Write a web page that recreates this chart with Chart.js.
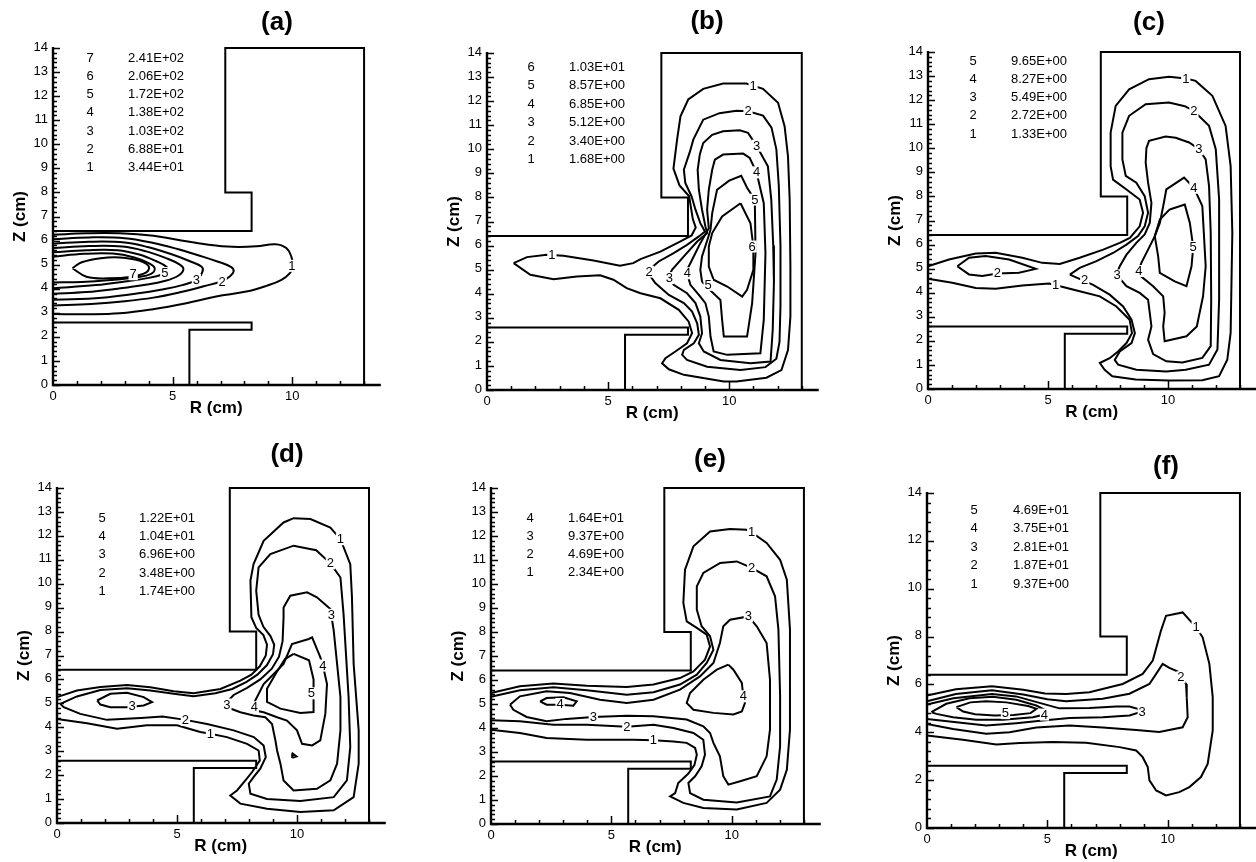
<!DOCTYPE html>
<html>
<head>
<meta charset="utf-8">
<script src="https://cdn.jsdelivr.net/npm/chart.js@4/dist/chart.umd.min.js"></script>
<style>
  html, body { margin: 0; padding: 0; background: #fff; }
  body { width: 1256px; height: 862px; overflow: hidden; position: relative; }
  canvas { position: absolute; }
</style>
</head>
<body>
<script>
// ---- axes ----
const rTicks = [0, 5, 10];
const zTicks = [0, 1, 2, 3, 4, 5, 6, 7, 8, 9, 10, 11, 12, 13, 14];
const zTicksEven = [0, 2, 4, 6, 8, 10, 12, 14];

// ---- reactor walls (R, Z in cm) ----
const upperWall = [[0, 6.4], [8.3, 6.4], [8.3, 8.0], [7.2, 8.0], [7.2, 14], [13, 14], [13, 0]];
const lowerWall = [[0, 2.6], [8.3, 2.6], [8.3, 2.3], [5.7, 2.3], [5.7, 0]];

// ---- contour levels, lowest first ----
const levelsA = [34.4, 68.8, 103, 138, 172, 206, 241];
const levelsB = [1.68, 3.40, 5.12, 6.85, 8.57, 10.3];
const levelsC = [1.33, 2.72, 5.49, 8.27, 9.65];
const levelsD = [1.74, 3.48, 6.96, 10.4, 12.2];
const levelsE = [2.34, 4.69, 9.37, 16.4];
const levelsF = [9.37, 18.7, 28.1, 37.5, 46.9];

// ---- (a) ----
const contoursA = [
  [[0,6.24],[1.4,6.3],[2.8,6.3],[4.2,6.2],[5.2,6.03],[6.5,5.83],[7.5,5.74],[8.5,5.76],[9.3,5.85],[9.75,5.69],[9.96,5.33],[10.03,4.92],[9.9,4.65],[9.55,4.37],[8.92,4.12],[8.08,3.88],[6.82,3.68],[5.57,3.4],[4.18,3.15],[2.79,2.98],[1.39,2.94],[0,2.95]],
  [[0,6.06],[1.5,6.13],[3.0,6.1],[4.2,5.9],[5.2,5.65],[6.1,5.38],[6.9,5.12],[7.45,4.9],[7.55,4.72],[7.4,4.52],[7.07,4.32],[6.3,4.1],[5.3,3.85],[4.2,3.63],[3.0,3.48],[1.6,3.37],[0,3.3]],
  [[0,5.87],[1.5,5.95],[3.0,5.92],[4.0,5.72],[4.9,5.45],[5.7,5.15],[6.2,4.92],[6.25,4.72],[6.0,4.37],[5.4,4.15],[4.5,3.96],[3.5,3.8],[2.3,3.65],[1.1,3.57],[0,3.54]],
  [[0,5.69],[1.5,5.77],[2.9,5.75],[3.9,5.55],[4.7,5.28],[5.3,5.0],[5.45,4.8],[5.25,4.55],[4.7,4.33],[3.8,4.15],[2.7,4.0],[1.4,3.86],[0,3.79]],
  [[0,5.51],[1.4,5.6],[2.7,5.6],[3.6,5.42],[4.3,5.15],[4.75,4.9],[4.8,4.72],[4.6,4.6],[4.0,4.45],[3.0,4.3],[1.8,4.15],[0,4.02]],
  [[0,5.33],[1.3,5.45],[2.5,5.46],[3.4,5.3],[4.0,5.06],[4.25,4.85],[4.1,4.62],[3.5,4.48],[2.4,4.36],[1.2,4.28],[0,4.26]],
  [[0.81,4.85],[1.2,5.1],[2.0,5.27],[2.8,5.3],[3.6,5.17],[4.0,4.93],[3.9,4.68],[3.3,4.5],[2.3,4.43],[1.4,4.5],[0.81,4.85]]
];
const labelsA = [[3.35, 4.6, '7'], [4.67, 4.65, '5'], [5.99, 4.37, '3'], [7.07, 4.3, '2'], [9.98, 4.95, '1']];

// ---- (b) ----
const contoursB = [
  [[1.10,5.27],[1.65,5.52],[2.47,5.62],[3.16,5.58],[4.40,5.38],[5.49,5.16],[6.04,5.27],[6.34,5.44],[7.16,5.75],[7.99,6.17],[8.45,6.42],[8.62,6.75],[8.50,7.10],[8.42,7.60],[8.35,8.05],[7.95,8.50],[7.70,9.20],[7.85,10.40],[7.99,11.37],[8.31,12.07],[8.93,12.51],[9.75,12.73],[10.71,12.73],[11.40,12.51],[12.02,11.93],[12.29,10.96],[12.43,9.71],[12.50,7.91],[12.53,5.13],[12.53,3.05],[12.43,1.66],[12.16,0.83],[11.54,0.51],[10.30,0.35],[9.78,0.35],[8.13,0.63],[7.51,0.86],[7.23,1.11],[7.37,1.32],[7.78,1.60],[8.26,1.94],[8.47,2.36],[8.33,2.84],[7.92,3.33],[7.16,3.81],[6.34,4.02],[5.77,4.23],[5.22,4.58],[4.67,4.77],[3.71,4.72],[2.75,4.60],[1.79,4.79],[1.10,5.27]],
  [[6.61,4.92],[7.09,5.34],[7.71,5.69],[8.26,6.03],[8.75,6.38],[9.00,6.58],[8.81,6.93],[8.61,7.49],[8.45,8.04],[8.19,8.60],[8.13,9.15],[8.38,9.90],[8.52,10.40],[8.93,11.23],[9.6,11.5],[10.3,11.6],[10.78,11.58],[11.4,11.4],[11.75,10.9],[11.95,10.0],[12.05,8.5],[12.12,6.0],[12.12,3.5],[12.08,2.0],[11.95,1.3],[11.5,0.95],[10.47,0.83],[9.09,0.97],[8.26,1.25],[8.06,1.46],[8.13,1.67],[8.54,1.94],[8.75,2.29],[8.68,2.77],[8.47,3.26],[8.13,3.61],[7.51,3.95],[6.95,4.44],[6.61,4.92]],
  [[7.51,4.72],[7.64,4.99],[8.13,5.55],[8.68,6.17],[9.09,6.52],[9.02,6.79],[8.88,7.49],[8.75,8.32],[8.7,9.15],[8.79,9.8],[8.93,10.26],[9.3,10.6],[9.75,10.75],[10.44,10.79],[10.78,10.68],[11.13,10.15],[11.6,9.29],[11.74,7.91],[11.82,6.0],[11.85,4.5],[11.8,2.5],[11.71,1.18],[10.88,1.11],[9.64,1.25],[8.95,1.60],[8.75,1.94],[8.88,2.36],[8.81,3.05],[8.61,3.61],[8.26,4.02],[7.71,4.37],[7.51,4.72]],
  [[8.26,4.85],[8.26,4.99],[8.47,5.41],[8.81,6.10],[9.16,6.72],[9.09,7.49],[9.16,8.32],[9.30,9.15],[9.41,9.57],[9.75,9.78],[10.58,9.82],[10.85,9.64],[11.13,9.04],[11.43,7.76],[11.5,5.69],[11.43,2.91],[11.29,1.53],[9.92,1.46],[9.36,1.60],[9.23,2.22],[9.16,3.05],[9.02,3.61],[8.75,3.95],[8.40,4.37],[8.26,4.85]],
  [[8.88,4.5],[8.81,4.99],[8.88,5.55],[9.09,6.2],[9.23,6.66],[9.30,7.35],[9.50,8.32],[10.0,8.7],[10.5,8.9],[10.74,8.4],[11.06,7.91],[11.09,5.69],[10.95,3.61],[10.74,2.22],[9.78,2.22],[9.71,2.91],[9.64,3.74],[9.16,4.2],[8.88,4.5]],
  [[10.47,7.76],[9.71,7.21],[9.30,6.52],[9.16,5.96],[9.16,5.13],[9.36,4.58],[9.92,4.30],[10.54,3.88],[10.74,4.16],[11.0,4.99],[11.0,5.96],[10.88,6.93],[10.47,7.76]]
];
const labelsB = [[2.68, 5.63, '1'], [10.99, 12.64, '1'], [10.78, 11.58, '2'], [6.7, 4.92, '2'], [11.13, 10.15, '3'], [7.53, 4.65, '3'],
  [11.13, 9.04, '4'], [8.27, 4.85, '4'], [11.06, 7.91, '5'], [9.13, 4.37, '5'], [10.95, 5.96, '6']];

// ---- (c) ----
const contoursC = [
  [[0,5.10],[0.875,5.38],[1.99,5.63],[2.82,5.66],[3.93,5.45],[4.76,5.24],[5.49,5.19],[6.32,5.45],[7.30,5.79],[7.99,6.07],[8.41,6.28],[8.82,6.76],[8.96,7.32],[8.82,7.87],[8.27,8.29],[7.71,8.70],[7.61,9.26],[7.61,10.65],[7.82,11.76],[8.38,12.45],[9.21,12.87],[10.04,12.97],[10.74,12.9],[11.15,12.80],[11.85,12.18],[12.40,10.93],[12.61,9.26],[12.68,6.49],[12.61,2.33],[12.47,1.22],[12.13,0.53],[11.43,0.36],[10.04,0.35],[8.65,0.39],[7.68,0.53],[7.36,0.80],[7.16,1.08],[7.57,1.28],[7.92,1.56],[8.27,1.91],[8.5,2.32],[8.4,2.88],[7.85,3.43],[7.16,3.85],[6.32,4.06],[5.5,4.27],[5.04,4.38],[3.93,4.30],[2.82,4.16],[1.99,4.20],[1.01,4.41],[0,4.58]],
  [[5.91,4.75],[6.32,5.03],[7.02,5.31],[7.71,5.65],[8.27,6.0],[8.75,6.35],[9.03,6.76],[9.17,7.32],[9.03,8.01],[8.68,8.57],[8.24,8.85],[8.10,9.54],[8.10,10.65],[8.38,11.35],[9.07,11.83],[10.04,11.9],[10.7,11.75],[11.08,11.55],[11.71,10.93],[11.99,9.96],[12.13,7.88],[12.13,3.72],[12.06,1.64],[11.71,1.01],[10.74,0.80],[9.93,0.73],[8.68,0.80],[7.92,1.01],[7.78,1.21],[7.99,1.56],[8.48,1.91],[8.62,2.32],[8.48,2.88],[8.13,3.43],[7.57,3.92],[6.88,4.33],[5.91,4.75]],
  [[1.22,5.10],[1.71,5.45],[2.40,5.52],[3.38,5.38],[4.49,4.99],[3.79,4.83],[2.89,4.80],[2.26,4.69],[1.71,4.76],[1.22,5.10]],
  [[7.85,4.75],[7.99,5.10],[8.27,5.58],[8.68,6.07],[9.03,6.42],[9.24,6.90],[9.31,7.73],[9.17,8.57],[9.07,9.4],[9.1,10.0],[9.21,10.31],[9.9,10.49],[10.32,10.44],[10.88,10.24],[11.29,9.96],[11.57,9.54],[11.71,8.43],[11.78,6.49],[11.8,3.72],[11.78,1.78],[11.43,1.29],[10.6,1.10],[9.93,1.15],[9.38,1.45],[9.17,2.05],[9.31,2.6],[9.24,3.16],[9.17,3.71],[8.82,3.99],[8.27,4.27],[7.85,4.75]],
  [[8.79,4.95],[8.89,5.24],[9.17,5.79],[9.45,6.35],[9.66,6.90],[9.80,7.59],[9.93,8.29],[10.67,8.78],[11.08,8.36],[11.43,7.60],[11.57,5.10],[11.46,3.85],[11.2,2.6],[10.77,2.19],[9.86,1.98],[9.80,2.6],[9.86,3.16],[9.8,3.85],[9.38,4.27],[8.85,4.7],[8.79,4.95]],
  [[10.07,7.46],[10.7,7.66],[10.91,6.9],[11.05,5.9],[10.98,5.1],[10.77,4.27],[10.28,4.47],[9.66,4.82],[9.59,5.51],[9.45,6.35],[9.66,7.04],[10.07,7.46]]
];
const labelsC = [[10.74, 12.9, '1'], [5.32, 4.33, '1'], [11.08, 11.55, '2'], [6.53, 4.52, '2'], [2.89, 4.82, '2'], [11.29, 9.96, '3'],
  [7.88, 4.72, '3'], [11.08, 8.36, '4'], [8.79, 4.9, '4'], [11.05, 5.9, '5']];

// ---- (d) ----
const contoursD = [
  [[0,5.26],[0.83,5.54],[1.81,5.68],[2.92,5.77],[3.89,5.67],[4.86,5.51],[5.69,5.42],[6.81,5.6],[7.64,5.95],[8.1,6.2],[8.45,6.55],[8.7,7.0],[8.75,7.45],[8.6,7.85],[8.3,8.15],[8.1,8.6],[8.06,10.13],[8.19,10.82],[8.61,11.79],[9.44,12.56],[9.86,12.74],[10.56,12.70],[11.39,12.35],[11.81,11.86],[12.22,10.82],[12.29,9.43],[12.36,6.65],[12.57,3.87],[12.57,2.48],[12.36,1.08],[11.53,0.53],[10.14,0.46],[8.75,0.60],[7.64,0.81],[7.22,1.15],[7.5,1.36],[7.85,1.78],[8.13,2.13],[8.45,2.61],[8.40,3.03],[7.92,3.31],[7.08,3.59],[6.39,3.73],[5.97,3.80],[5.0,4.08],[3.75,4.08],[2.5,3.94],[1.25,4.17],[0,4.35]],
  [[0.14,4.98],[0.83,5.29],[1.81,5.56],[2.92,5.63],[3.89,5.54],[4.86,5.40],[5.69,5.30],[6.6,5.42],[7.3,5.6],[7.9,5.9],[8.35,6.2],[8.75,6.6],[9.0,7.05],[9.05,7.45],[8.9,7.8],[8.6,8.2],[8.4,8.7],[8.3,9.71],[8.40,10.68],[8.89,11.24],[9.86,11.59],[10.8,11.4],[11.39,10.85],[11.81,10.26],[11.94,8.73],[12.15,5.26],[12.22,3.17],[12.08,1.78],[11.53,1.08],[10.14,0.92],[8.75,1.0],[8.06,1.22],[7.99,1.64],[8.19,1.92],[8.47,2.27],[8.7,2.75],[8.61,3.24],[8.2,3.59],[7.36,3.87],[6.25,4.14],[5.35,4.31],[4.4,4.45],[3.5,4.39],[2.08,4.31],[0.97,4.56],[0.28,4.84],[0.14,4.98]],
  [[1.67,5.12],[2.22,5.40],[2.92,5.44],[3.61,5.26],[3.96,5.05],[3.61,4.91],[2.92,4.84],[2.22,4.84],[1.81,4.95],[1.67,5.12]],
  [[7.08,5.05],[7.36,5.35],[7.92,5.65],[8.47,6.0],[8.95,6.45],[9.25,6.95],[9.4,7.6],[9.44,8.60],[9.44,9.01],[9.72,9.50],[10.42,9.64],[10.83,9.43],[11.39,8.94],[11.53,8.04],[11.67,6.65],[11.81,5.26],[11.81,3.87],[11.67,2.48],[11.39,1.78],[10.83,1.43],[9.86,1.36],[9.44,1.78],[9.31,2.48],[9.17,3.03],[9.10,3.45],[8.96,4.14],[8.68,4.42],[8.19,4.49],[7.64,4.63],[7.08,4.84],[7.08,5.05]],
  [[8.22,4.84],[8.26,5.12],[8.61,5.81],[9.03,6.23],[9.44,6.65],[9.79,7.48],[10.49,7.69],[10.63,7.76],[10.97,6.93],[11.08,6.58],[11.25,5.81],[11.18,4.56],[10.97,3.45],[10.63,3.24],[10.21,3.31],[10.0,3.87],[9.58,4.28],[9.17,4.42],[8.61,4.63],[8.26,4.70],[8.22,4.84]],
  [[9.86,7.07],[10.5,6.8],[10.69,6.0],[10.69,4.64],[10.14,4.6],[9.31,4.78],[8.75,5.06],[8.75,5.61],[9.15,6.3],[9.5,6.85],[9.86,7.07]],
  [[9.8,2.72],[9.98,2.78],[9.82,2.9],[9.8,2.72]]
];
const labelsD = [[11.81, 11.86, '1'], [6.39, 3.73, '1'], [11.39, 10.85, '2'], [5.35, 4.31, '2'], [11.43, 8.7, '3'], [7.08, 4.95, '3'],
  [3.13, 4.88, '3'], [11.08, 6.58, '4'], [8.22, 4.84, '4'], [10.6, 5.42, '5']];

// ---- (e) ----
const contoursE = [
  [[0,5.46],[1.2,5.74],[2.59,5.85],[3.98,5.76],[5.64,5.71],[6.75,5.81],[7.85,6.08],[8.41,6.36],[8.89,6.85],[9.10,7.40],[8.96,7.89],[8.55,8.17],[8.13,8.44],[7.99,9.21],[8.06,10.6],[8.41,11.57],[9.10,12.19],[9.93,12.29],[10.62,12.26],[10.83,12.15],[11.45,11.71],[12.01,11.01],[12.29,10.18],[12.42,8.1],[12.42,3.93],[12.29,2.26],[12.01,1.43],[11.45,0.88],[10.21,0.6],[8.82,0.67],[7.99,0.88],[7.44,1.15],[7.65,1.29],[7.78,1.71],[8.2,2.1],[8.45,2.45],[8.55,2.89],[8.48,3.17],[8.13,3.38],[7.58,3.44],[6.75,3.49],[5.91,3.51],[3.98,3.51],[2.31,3.58],[1.2,3.79],[0,3.93]],
  [[0,5.30],[1.2,5.57],[2.59,5.70],[3.98,5.57],[5.64,5.39],[6.75,5.49],[7.85,5.81],[8.55,6.22],[8.96,6.71],[9.24,7.26],[9.10,7.82],[8.75,8.24],[8.55,8.93],[8.55,9.90],[8.82,10.46],[9.52,10.88],[10.21,10.94],[10.83,10.67],[11.45,10.32],[11.8,9.49],[11.94,8.1],[12.01,5.32],[12.01,3.24],[11.87,1.85],[11.59,1.15],[10.21,0.9],[8.82,1.01],[8.27,1.29],[8.2,1.71],[8.48,1.99],[8.75,2.4],[8.89,2.89],[8.82,3.51],[8.41,3.79],[7.58,4.0],[6.75,4.14],[5.64,4.05],[3.98,4.14],[2.59,4.14],[1.2,4.28],[0,4.32]],
  [[0.79,4.97],[1.2,5.32],[2.31,5.53],[3.28,5.46],[4.53,5.18],[5.64,5.04],[6.75,5.18],[7.85,5.6],[8.68,6.15],[9.24,6.71],[9.51,7.54],[9.65,8.24],[9.93,8.51],[10.69,8.65],[11.04,8.24],[11.45,7.54],[11.59,6.01],[11.59,3.93],[11.45,2.82],[11.04,1.99],[10.35,1.78],[9.86,1.64],[9.65,1.99],[9.51,2.82],[9.24,3.38],[9.1,3.79],[8.82,4.07],[8.13,4.35],[6.75,4.49],[5.64,4.51],[4.25,4.46],[3.14,4.38],[2.31,4.28],[1.48,4.46],[0.93,4.76],[0.79,4.97]],
  [[9.86,6.64],[10.07,6.43],[10.42,5.88],[10.48,5.32],[10.55,5.04],[10.42,4.69],[10.07,4.56],[9.24,4.63],[8.41,4.76],[8.13,5.04],[8.27,5.46],[8.82,6.01],[9.38,6.43],[9.86,6.64]],
  [[2.04,5.11],[2.31,5.25],[3.01,5.28],[3.56,5.11],[3.42,4.93],[2.87,4.97],[2.31,4.97],[2.04,5.11]]
];
const labelsE = [[10.83, 12.15, '1'], [6.75, 3.49, '1'], [10.83, 10.67, '2'], [5.64, 4.05, '2'], [10.69, 8.65, '3'], [4.25, 4.46, '3'],
  [10.48, 5.32, '4'], [2.87, 5.0, '4']];

// ---- (f) ----
const contoursF = [
  [[0,5.54],[1.2,5.8],[2.7,5.92],[4.0,5.78],[4.9,5.62],[5.78,5.6],[6.75,5.67],[8.13,6.02],[8.96,6.44],[9.38,7.0],[9.72,8.25],[9.93,8.87],[10.62,9.01],[11.18,8.39],[11.45,7.97],[11.73,6.86],[11.87,5.47],[11.87,4.08],[11.66,2.68],[11.38,2.13],[10.9,1.71],[10.48,1.5],[9.93,1.36],[9.52,1.57],[9.24,1.99],[9.17,2.55],[8.96,2.96],[8.69,3.24],[8.0,3.38],[6.61,3.56],[5.23,3.59],[3.85,3.55],[2.88,3.49],[1.49,3.69],[0,3.87]],
  [[0,5.30],[1.2,5.6],[2.7,5.76],[4.0,5.58],[5.0,5.38],[5.78,5.3],[7.30,5.40],[8.41,5.61],[9.24,6.02],[9.52,6.44],[9.79,6.86],[10.07,6.69],[10.4,6.55],[10.55,6.3],[10.76,6.02],[10.79,5.47],[10.83,4.63],[10.62,4.21],[9.65,4.01],[8.69,4.1],[7.3,4.2],[5.92,4.28],[4.54,4.2],[3.43,4.0],[2.46,3.94],[1.08,4.14],[0,4.35]],
  [[0,5.16],[1.1,5.42],[2.7,5.6],[3.7,5.5],[4.6,5.25],[5.5,5.0],[6.75,5.02],[7.86,5.08],[8.41,5.08],[8.76,4.98],[8.85,4.84],[8.41,4.70],[7.30,4.63],[5.92,4.60],[4.81,4.49],[3.71,4.38],[2.46,4.28],[1.22,4.42],[0,4.56]],
  [[0.18,4.84],[0.8,5.19],[1.77,5.42],[2.74,5.48],[3.71,5.36],[4.54,5.12],[4.95,4.91],[4.88,4.74],[4.40,4.63],[3.15,4.52],[2.05,4.52],[1.08,4.63],[0.39,4.77],[0.18,4.84]],
  [[1.22,5.05],[1.8,5.25],[2.46,5.3],[3.3,5.25],[4.2,5.1],[4.55,4.98],[4.3,4.8],[3.6,4.72],[2.8,4.7],[2.0,4.75],[1.5,4.87],[1.22,5.05]]
];
const labelsF = [[11.18, 8.39, '1'], [10.55, 6.3, '2'], [8.94, 4.84, '3'], [4.88, 4.74, '4'], [3.26, 4.8, '5']];

// ---- page layout (pixels) ----
const panels = [
  { title: '(a)', x0: 53, y0: 385, sx: 23.93, sy: 24.05, titleDx: 224, titleDy: 362, legDx: 37, valDx: 75, legDy: 327, legStep: 18.3, zTicks: zTicks, levels: levelsA, contours: contoursA, labels: labelsA, tension: 0.4 },
  { title: '(b)', x0: 487, y0: 390, sx: 24.2, sy: 24.05, titleDx: 220, titleDy: 368, legDx: 44, valDx: 82, legDy: 323, legStep: 18.5, zTicks: zTicks, levels: levelsB, contours: contoursB, labels: labelsB, tension: 0 },
  { title: '(c)', x0: 928, y0: 389, sx: 24.0, sy: 24.04, titleDx: 221, titleDy: 366, legDx: 45, valDx: 83, legDy: 328, legStep: 18.3, zTicks: zTicks, levels: levelsC, contours: contoursC, labels: labelsC, tension: 0 },
  { title: '(d)', x0: 57, y0: 823, sx: 24.0, sy: 23.96, titleDx: 230, titleDy: 368, legDx: 45, valDx: 82, legDy: 305, legStep: 18.35, zTicks: zTicks, levels: levelsD, contours: contoursD, labels: labelsD, tension: 0 },
  { title: '(e)', x0: 491, y0: 824, sx: 24.07, sy: 24.0, titleDx: 219, titleDy: 364, legDx: 39, valDx: 77, legDy: 306, legStep: 18.1, zTicks: zTicks, levels: levelsE, contours: contoursE, labels: labelsE, tension: 0 },
  { title: '(f)', x0: 927, y0: 828, sx: 24.1, sy: 23.96, titleDx: 239, titleDy: 361, legDx: 47, valDx: 86, legDy: 318, legStep: 18.5, zTicks: zTicksEven, levels: levelsF, contours: contoursF, labels: labelsF, tension: 0 }
];

const FONT = '"Liberation Sans", Arial, Helvetica, sans-serif';
const PAD = { left: 70, top: 70, right: 12, bottom: 45 };
const R_END = 13.7;

function fmtLevel(v) {
  const [m, e] = v.toExponential(2).split('e');
  const n = Math.abs(parseInt(e, 10));
  return m + 'E' + (e[0] === '-' ? '-' : '+') + (n < 10 ? '0' : '') + n;
}

const toXY = pts => pts.map(([x, y]) => ({ x, y }));

// axes, ticks, titles, level table and in-line contour labels
const panelDecor = {
  id: 'panelDecor',
  afterDatasetsDraw(chart, args, o) {
    const ctx = chart.ctx;
    const X = v => chart.scales.x.getPixelForValue(v);
    const Y = v => chart.scales.y.getPixelForValue(v);
    const ox = X(0), oy = Y(0);
    ctx.save();

    // contour labels sit in a gap cut out of the line
    ctx.font = '13px ' + FONT;
    ctx.textAlign = 'center';
    ctx.textBaseline = 'middle';
    o.labels.forEach(([r, z, t]) => {
      const x = X(r), y = Y(z);
      const w = ctx.measureText(t).width + 2;
      ctx.fillStyle = '#fff';
      ctx.fillRect(x - w / 2, y - 6, w, 12);
      ctx.fillStyle = '#000';
      ctx.fillText(t, x, y + 0.5);
    });

    // axis lines
    ctx.strokeStyle = '#000';
    ctx.lineWidth = 2.4;
    ctx.beginPath();
    ctx.moveTo(ox, Y(14) - 1);
    ctx.lineTo(ox, oy);
    ctx.lineTo(X(R_END), oy);
    ctx.stroke();

    // ticks, pointing into the plot
    ctx.lineWidth = 1.5;
    ctx.beginPath();
    const zs = o.zTicks;
    const zStep = zs[1] - zs[0];
    for (let k = 0; k <= 14 / zStep * 5; k++) {
      const z = k * zStep / 5;
      const y = Math.round(Y(z)) + 0.5;
      const len = k % 5 === 0 ? 7 : 4;
      ctx.moveTo(ox, y);
      ctx.lineTo(ox + len, y);
    }
    for (let r = 1; r <= 13; r++) {
      const x = Math.round(X(r)) + 0.5;
      const len = rTicks.includes(r) ? 8 : 4;
      ctx.moveTo(x, oy);
      ctx.lineTo(x, oy - len);
    }
    ctx.stroke();

    // tick labels
    ctx.fillStyle = '#000';
    ctx.font = '13px ' + FONT;
    ctx.textAlign = 'right';
    ctx.textBaseline = 'middle';
    zs.forEach(z => ctx.fillText(String(z), ox - 5, Y(z) - 1));
    ctx.textAlign = 'center';
    ctx.textBaseline = 'top';
    rTicks.forEach(r => ctx.fillText(String(r), X(r), oy + 5));

    // axis titles
    ctx.font = 'bold 17px ' + FONT;
    ctx.textBaseline = 'middle';
    ctx.fillText('R (cm)', X(6.82), oy + 23);
    ctx.save();
    ctx.translate(ox - 32.5, Y(7));
    ctx.rotate(-Math.PI / 2);
    ctx.fillText('Z (cm)', 0, 0);
    ctx.restore();

    // panel title
    ctx.font = 'bold 26px ' + FONT;
    ctx.fillText(o.title, ox + o.titleDx, oy - o.titleDy);

    // level table, highest level first
    ctx.font = '13px ' + FONT;
    const n = o.levels.length;
    for (let i = 0; i < n; i++) {
      const lvl = n - i;
      const y = oy - o.legDy + i * o.legStep;
      ctx.textAlign = 'center';
      ctx.fillText(String(lvl), ox + o.legDx, y);
      ctx.textAlign = 'left';
      ctx.fillText(fmtLevel(o.levels[lvl - 1]), ox + o.valDx, y);
    }
    ctx.restore();
  }
};

panels.forEach(p => {
  const areaTop = Math.round(p.y0 - 14 * p.sy);
  const canvas = document.createElement('canvas');
  const w = PAD.left + Math.round(14 * p.sx) + PAD.right;
  const h = PAD.top + (p.y0 - areaTop) + PAD.bottom;
  canvas.width = w;
  canvas.height = h;
  canvas.style.left = (p.x0 - PAD.left) + 'px';
  canvas.style.top = (areaTop - PAD.top) + 'px';
  canvas.style.width = w + 'px';
  canvas.style.height = h + 'px';
  document.body.appendChild(canvas);

  const line = (pts, width, tension) => ({
    data: toXY(pts),
    showLine: true,
    borderColor: '#000',
    borderWidth: width,
    pointRadius: 0,
    pointHoverRadius: 0,
    tension: tension,
    clip: false
  });

  const datasets = [line(upperWall, 2, 0), line(lowerWall, 2, 0)]
    .concat(p.contours.map(c => line(c, 2, p.tension)));

  new Chart(canvas, {
    type: 'scatter',
    data: { datasets },
    options: {
      responsive: false,
      animation: false,
      devicePixelRatio: 1,
      events: [],
      layout: { padding: PAD },
      scales: {
        x: { type: 'linear', min: 0, max: 14, display: false },
        y: { type: 'linear', min: 0, max: 14, display: false }
      },
      plugins: {
        legend: { display: false },
        tooltip: { enabled: false },
        panelDecor: {
          title: p.title, titleDx: p.titleDx, titleDy: p.titleDy,
          legDx: p.legDx, valDx: p.valDx, legDy: p.legDy, legStep: p.legStep,
          zTicks: p.zTicks, levels: p.levels, labels: p.labels
        }
      }
    },
    plugins: [panelDecor]
  });
});
</script>
</body>
</html>
